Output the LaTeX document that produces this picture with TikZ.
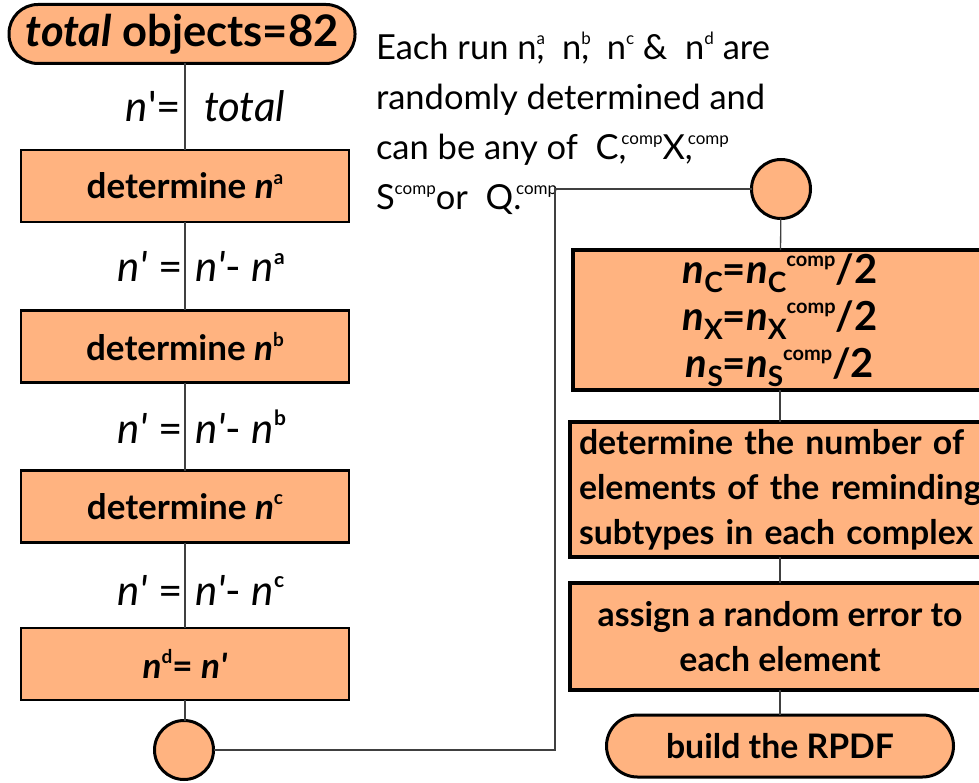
\documentclass[tikz,border=0pt]{standalone}
\usepackage{fontspec}
\setmainfont{Lato}
\usetikzlibrary{shapes.misc,shapes.geometric}
\definecolor{peach}{HTML}{FFB380}
\definecolor{linegray}{HTML}{404040}
\newcommand{\mysup}[2]{\raisebox{0.42em}{\fontsize{#1}{#1}\selectfont #2}}
\newcommand{\mysub}[2]{\raisebox{-0.22em}{\fontsize{#1}{#1}\selectfont #2}}
\begin{document}
\begin{tikzpicture}[x=1pt,y=-1pt,
  every node/.style={inner sep=0pt, outer sep=0pt},
  lbox/.style={draw=black, line width=2.6pt, fill=peach, minimum width=328pt, minimum height=72pt, font=\fontsize{35}{40}\selectfont\bfseries},
  rbox/.style={draw=black, line width=4.5pt, fill=peach, minimum width=420pt, font=\fontsize{33.8}{45}\selectfont\bfseries},
  term/.style={draw=black, line width=3pt, fill=peach, rectangle},
  dot/.style={draw=black, line width=3pt, fill=peach, circle, minimum size=59pt},
  link/.style={draw=linegray, line width=1.3pt},
  lbl/.style={font=\fontsize{42}{42}\selectfont},
]
\path[use as bounding box] (0,0) rectangle (979,783);
\clip (0,0) rectangle (979,783);

% left column
\node[term, rounded corners=29pt, minimum width=346pt, minimum height=59pt, font=\fontsize{43.5}{43.5}\selectfont\bfseries] (start) at (182,34) {\textit{total} objects=82};
\node[lbox] (b1) at (185,186) {determine \textit{n}\mysup{19}{a}};
\node[lbox] (b2) at (185,346.5) {determine \textit{n}\mysup{19}{b}};
\node[lbox] (b3) at (185,506.5) {determine \textit{n}\mysup{19}{c}};
\node[lbox] (b4) at (185,664) {\textit{n}\mysup{19}{d}= \textit{n\textquotesingle}};
\node[dot] (cB) at (184,750) {};

\draw[link] (b1.north) -- (b1.north |- start.south);
\draw[link] (b1) -- (b2);
\draw[link] (b2) -- (b3);
\draw[link] (b3) -- (b4);
\draw[link] (b4.south) -- (b4.south |- cB.north);

\node[lbl, anchor=base east] (l1a) at (181,122) {\textit{n}\textquotesingle=};
\node[lbl, anchor=base west] (l1b) at (204,122) {\textit{total}};
\node[lbl, anchor=base east] (l2a) at (183,282) {\textit{n\textquotesingle} =};
\node[lbl, anchor=base west] (l2b) at (195,282) {\textit{n\textquotesingle}- \textit{n}\mysup{21}{\bfseries a}};
\node[lbl, anchor=base east] (l3a) at (183,443) {\textit{n\textquotesingle} =};
\node[lbl, anchor=base west] (l3b) at (195,443) {\textit{n\textquotesingle}- \textit{n}\mysup{21}{\bfseries b}};
\node[lbl, anchor=base east] (l4a) at (183,605) {\textit{n\textquotesingle} =};
\node[lbl, anchor=base west] (l4b) at (195,605) {\textit{n\textquotesingle}- \textit{n}\mysup{21}{\bfseries c}};

% note
\node[anchor=north west, align=left, font=\fontsize{34.5}{50}\selectfont] (note) at (376,32)
  {Each run n\rlap{\mysup{17}{a}},~ n\rlap{\mysup{17}{b}},~ n\mysup{17}{c} \&~ n\mysup{17}{d} are\\
   randomly determined and\\
   can be any of~ C\rlap{,}\mysup{17}{\,comp}X\rlap{,}\mysup{17}{\,comp}\\
   S\mysup{17}{comp}or~ Q\rlap{.}\mysup{17}{\,comp}};

% right column
\node[dot] (cT) at (781,189) {};
\node[rbox, minimum width=414pt, minimum height=140pt, align=center, font=\fontsize{40}{47}\selectfont\bfseries] (nC) at (780,320)
  {\textit{n}\mysub{28}{C}=\textit{n}\mysub{28}{C}\mysup{20}{comp}/2\\
   \textit{n}\mysub{28}{X}=\textit{n}\mysub{28}{X}\mysup{20}{comp}/2\\
   \textit{n}\mysub{28}{S}=\textit{n}\mysub{28}{S}\mysup{20}{comp}/2};
\node[rbox, minimum height=135pt, align=left, text width=402pt] (det) at (780,489.5)
  {\mbox{determine the number of}\\ \mbox{elements of the reminding}\\ \mbox{subtypes in each complex}};
\node[rbox, minimum height=107pt, align=center] (asg) at (780,636.5)
  {assign a random error to\\ each element};
\node[term, rounded corners=31pt, minimum width=347pt, minimum height=62pt, font=\fontsize{33.8}{33.8}\selectfont\bfseries] (build) at (780,746) {build the RPDF};

\coordinate (bendx) at (555,0);
\draw[link] (cB.east) -| (bendx |- cT.west) -- (cT.west);
\draw[link] (cT) -- (nC);
\draw[link] (nC) -- (det);
\draw[link] (det) -- (asg);
\draw[link] (asg) -- (build);
\end{tikzpicture}
\end{document}
